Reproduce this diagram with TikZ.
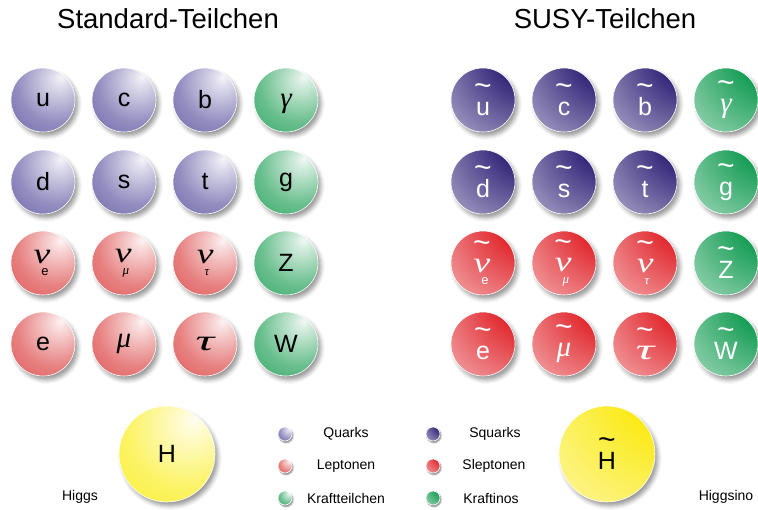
\documentclass[tikz,border=0pt]{standalone}
\usepackage{fontspec}
\setmainfont{Liberation Sans}
\newfontfamily\grk{Liberation Serif}
\usetikzlibrary{shadows.blur}

\definecolor{quark}{RGB}{96,88,162}
\definecolor{lepton}{RGB}{220,70,70}
\definecolor{force}{RGB}{34,160,88}
\definecolor{higgs}{RGB}{250,238,30}
\definecolor{squark}{RGB}{34,20,110}
\definecolor{slepton}{RGB}{222,22,28}
\definecolor{kraftino}{RGB}{0,148,68}
\definecolor{higgsino}{RGB}{250,232,0}

% shading of the standard balls (light spot upper right)
\colorlet{ballcol}{quark}
\pgfdeclareradialshading[ballcol]{stdball}{\pgfpoint{14bp}{18bp}}{%
  color(0bp)=(ballcol!6!white); color(6bp)=(ballcol!20!white);
  color(30bp)=(ballcol!68!white); color(55bp)=(ballcol!96!white);
  color(75bp)=(ballcol!92!black); color(100bp)=(ballcol!92!black)}
% shading of the susy balls (dark upper right, light lower left)
\pgfdeclareradialshading[ballcol]{susyball}{\pgfpoint{50bp}{50bp}}{%
  color(0bp)=(ballcol!85!black); color(25bp)=(ballcol);
  color(65bp)=(ballcol!50!white); color(106bp)=(ballcol!5!white);
  color(160bp)=(ballcol!5!white)}

\newcommand\tld[1]{\setbox0\hbox{#1}%
  \hbox to\wd0{\hss\raisebox{.8em}{\scalebox{1.2}{\textasciitilde}}\hss}\kern-\wd0\box0}
\newcommand\gr[1]{{\grk\itshape\fontsize{29}{29}\selectfont #1}}
\newcommand\sub[1]{\kern-9pt\raisebox{-12pt}{\fontsize{13}{13}\selectfont #1}\kern4pt}
\newcommand\wnu{\scalebox{1.3}[1]{ν}}
\newcommand\wtau{\scalebox{1.8}[1]{τ}}
\newcommand\lgam{\raisebox{-4pt}[\height][\depth]{γ}}

\begin{document}
\begin{tikzpicture}[x=1pt,y=-1pt,
    ball/.style={circle,inner sep=0pt,minimum size=64pt,draw=white,line width=.6pt,
      font=\fontsize{25}{25}\selectfont,
      blur shadow={shadow xshift=3pt,shadow yshift=-4pt,shadow blur radius=4pt,shadow opacity=40}},
    sm/.style={ball,/utils/exec={\colorlet{ballcol}{#1}},shading=stdball},
    susy/.style={ball,/utils/exec={\colorlet{ballcol}{#1}},shading=susyball,text=white},
    dot/.style={minimum size=14pt,font=\tiny,
      blur shadow={shadow xshift=1pt,shadow yshift=-1.5pt,shadow blur radius=1.5pt,shadow opacity=30}},
    label/.style={font=\fontsize{14}{14}\selectfont},
    title/.style={font=\fontsize{27.5}{27.5}\selectfont}]
  \useasboundingbox (0,0) rectangle (758,510);

  \node[title] (std-title) at (168,19) {Standard-Teilchen};
  \node[title] (susy-title) at (605,19) {SUSY-Teilchen};

  % Standard-Teilchen
  \foreach \x/\y/\t/\c/\n in {
      43/100/u/quark/u, 124/100/c/quark/c, 205/100/b/quark/b, 286/100/\gr{\lgam}/force/gamma,
      43/182/d/quark/d, 124/182/s/quark/s, 205/182/t/quark/t, 286/182/g/force/g,
      43/263/\gr{\wnu}\sub{e}/lepton/nue, 124/263/\gr{\wnu}\sub{\grk\itshape μ}/lepton/numu,
      205/263/\gr{\wnu}\sub{\grk\itshape τ}/lepton/nutau, 286/263/Z/force/Z,
      43/344/e/lepton/e, 124/344/\gr{μ}/lepton/mu, 205/344/\gr{\wtau}/lepton/tau,
      286/344/W/force/W}{
    \node[sm=\c] (\n) at (\x,\y) {\t};
  }

  % SUSY-Teilchen
  \foreach \x/\y/\t/\c/\n in {
      483/100/\tld{u}/squark/su, 564/100/\tld{c}/squark/sc, 645/100/\tld{b}/squark/sb,
      726/100/\tld{\gr{γ}}/kraftino/sgamma,
      483/182/\tld{d}/squark/sd, 564/182/\tld{s}/squark/ss, 645/182/\tld{t}/squark/st,
      726/182/\tld{g}/kraftino/sg,
      483/263/\tld{\gr{\wnu}}\sub{e}/slepton/snue, 564/263/\tld{\gr{\wnu}}\sub{\grk\itshape μ}/slepton/snumu,
      645/263/\tld{\gr{\wnu}}\sub{\grk\itshape τ}/slepton/snutau, 726/263/\tld{Z}/kraftino/sZ,
      483/344/\tld{e}/slepton/se, 564/344/\tld{\gr{μ}}/slepton/smu,
      645/344/\tld{\gr{\wtau}}/slepton/stau, 726/344/\tld{W}/kraftino/sW}{
    \node[susy=\c] (\n) at (\x,\y) {\t};
  }

  % Higgs und Higgsino
  \node[sm=higgs,minimum size=96pt] (H) at (167,454) {H};
  \node[label] (higgs-lbl) at (80,497) {Higgs};
  \node[susy=higgsino,minimum size=96pt,text=black] (sH) at (607,454) {\tld{H}};
  \node[label] (higgsino-lbl) at (726,497) {Higgsino};

  % Legende
  \node[sm=quark,dot] (q-dot) at (285,434) {};
  \node[label] (q-lbl) at (346,434) {Quarks};
  \node[susy=squark,dot] (sq-dot) at (433,434) {};
  \node[label] (sq-lbl) at (495,434) {Squarks};
  \node[sm=lepton,dot] (l-dot) at (285,466) {};
  \node[label] (l-lbl) at (346,466) {Leptonen};
  \node[susy=slepton,dot] (sl-dot) at (433,466) {};
  \node[label] (sl-lbl) at (494,466) {Sleptonen};
  \node[sm=force,dot] (f-dot) at (285,498) {};
  \node[label] (f-lbl) at (346,498) {Kraftteilchen};
  \node[susy=kraftino,dot] (sf-dot) at (433,498) {};
  \node[label] (sf-lbl) at (491,498) {Kraftinos};
\end{tikzpicture}
\end{document}
